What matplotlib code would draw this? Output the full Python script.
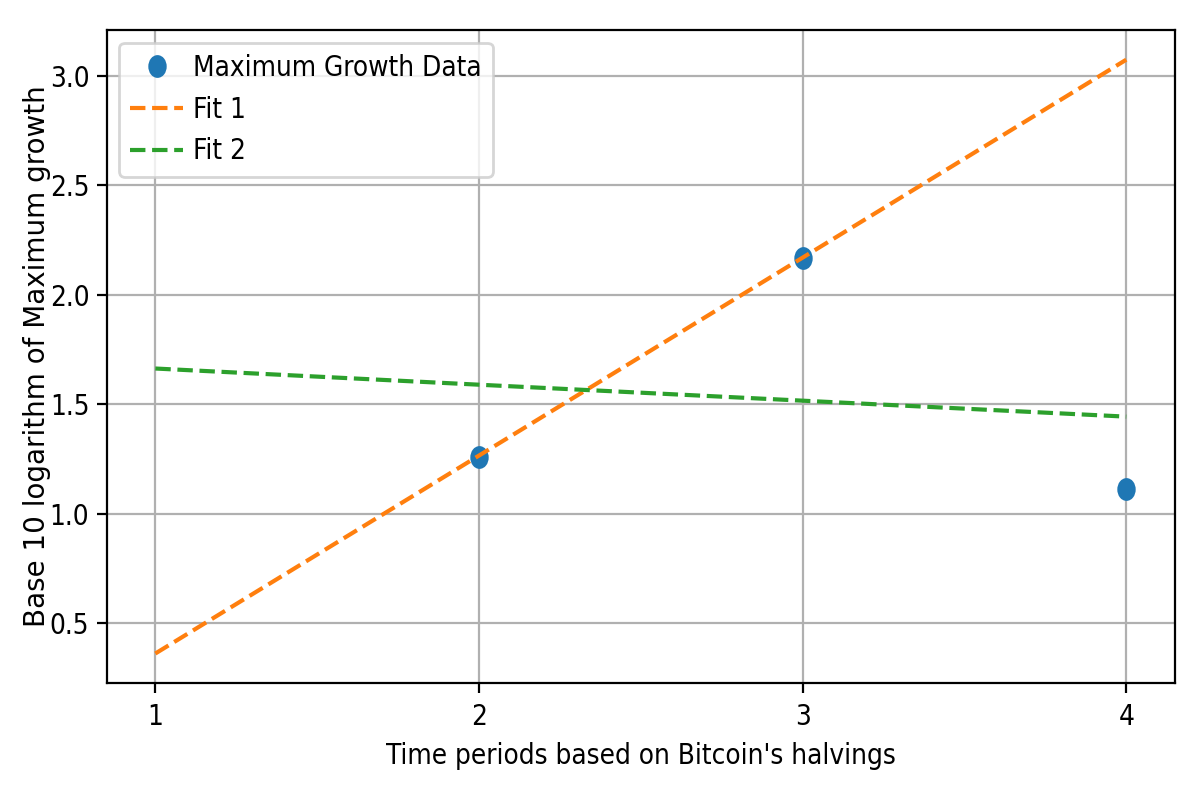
import matplotlib
matplotlib.use("Agg")
import numpy as np
import matplotlib.pyplot as plt
from matplotlib.path import Path

# Data
halvings = [2, 3, 4]
max_growth_log = [1.26, 2.17, 1.11]

fit_x = [1, 2, 3, 4]
fit1_y = [0.36, 1.265, 2.17, 3.075]
fit2_y = [1.663, 1.589, 1.516, 1.443]

# the reference looks squeezed sideways, so dots are slightly oval
circ = Path.unit_circle()
oval = Path(circ.vertices * np.array([0.78, 1.0]), circ.codes)

narrow = dict(family='DejaVu Sans', stretch='condensed')

fig, ax = plt.subplots(figsize=(6, 4), dpi=200)
fig.subplots_adjust(left=0.089, right=0.979, top=0.9625, bottom=0.146)

ax.plot(halvings, max_growth_log, linestyle='none', marker=oval, markersize=7.2,
        label='Maximum Growth Data')
ax.plot(fit_x, fit1_y, '--', label='Fit 1')
ax.plot(fit_x, fit2_y, '--', label='Fit 2')

ax.set_xticks(fit_x)
ax.grid(True)

for t in ax.get_xticklabels() + ax.get_yticklabels():
    t.set_fontstretch('condensed')
ax.tick_params(axis='y', pad=2.8)
ax.set_xlabel("Time periods based on Bitcoin's halvings", fontstretch='condensed')
ax.set_ylabel('Base 10 logarithm of Maximum growth', labelpad=-0.5)
ax.legend(loc='upper left', prop=narrow, handlelength=1.9, handletextpad=0.35,
          borderaxespad=0.45)

plt.savefig('out.png')
